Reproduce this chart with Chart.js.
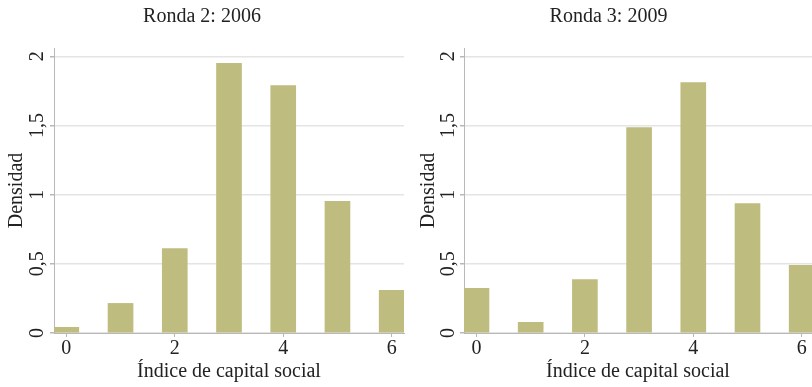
<!DOCTYPE html>
<html>
<head>
<meta charset="utf-8">
<script src="https://cdn.jsdelivr.net/npm/chart.js@4.4.1/dist/chart.umd.min.js"></script>
<style>
  html, body { margin: 0; padding: 0; background: #fff; }
  #wrap { position: relative; width: 812px; height: 387px; overflow: hidden; }
  .panel { position: absolute; top: 0; height: 387px; }
</style>
</head>
<body>
<div id="wrap">
  <div class="panel" style="left:0;width:405px"><canvas id="c1" width="405" height="387"></canvas></div>
  <div class="panel" style="left:405px;width:407px"><canvas id="c2" width="407" height="387"></canvas></div>
</div>
<script>
// ---- data ----
const categories = [0, 1, 2, 3, 4, 5, 6];
const ronda2006 = [0.041, 0.214, 0.611, 1.949, 1.788, 0.951, 0.308];
const ronda2009 = [0.322, 0.077, 0.387, 1.485, 1.810, 0.936, 0.489];
const titles = ['Ronda 2: 2006', 'Ronda 3: 2009'];
const xTitle = 'Índice de capital social';
const yTitle = 'Densidad';

const FONT = "'Liberation Serif', 'DejaVu Serif', serif";
const BAR = '#bebd7f';
const GRID = '#e4e4e4';
const AXIS = '#b8b8b8';
const TEXT = '#222222';

function makeChart(id, values, title, cfg) {
  const pts = categories.map((c, i) => ({ x: c, y: values[i] }));
  return new Chart(document.getElementById(id), {
    type: 'bar',
    data: { datasets: [{ data: pts, backgroundColor: BAR, borderWidth: 0, barThickness: 25 }] },
    options: {
      responsive: false,
      animation: false,
      layout: { padding: { left: 0, right: cfg.padRight, top: 0, bottom: 0 } },
      plugins: {
        legend: { display: false },
        tooltip: { enabled: false },
        title: {
          display: true, text: title, color: TEXT,
          font: { family: FONT, size: 20, weight: 'normal' },
          padding: { top: 5, bottom: 19 }
        }
      },
      scales: {
        x: {
          type: 'linear', min: cfg.xMin, max: cfg.xMax, offset: false,
          grid: { display: true, drawOnChartArea: false, drawTicks: true, tickLength: 4, tickColor: AXIS, offset: false },
          border: { display: true, color: AXIS, width: 1 },
          ticks: { stepSize: 2, includeBounds: false, color: TEXT, padding: 0,
                   font: { family: FONT, size: 20 }, maxRotation: 0, minRotation: 0 },
          title: { display: true, text: xTitle, color: TEXT, font: { family: FONT, size: 20 }, padding: { top: 0, bottom: 3 } },
          afterFit: s => { s.height = 54; }
        },
        y: {
          min: 0, max: 2.06,
          grid: { color: GRID, lineWidth: 1.5, drawTicks: true, tickLength: 4, tickColor: AXIS },
          border: { display: true, color: AXIS, width: 1 },
          ticks: { stepSize: 0.5, includeBounds: false, color: TEXT, padding: cfg.yTickPad,
                   crossAlign: 'center', minRotation: 90, maxRotation: 90,
                   font: { family: FONT, size: 20 },
                   callback: v => String(v).replace('.', ',') },
          title: { display: true, text: yTitle, color: TEXT, font: { family: FONT, size: 20 }, padding: { top: cfg.yTitlePad, bottom: 0 } },
          afterFit: s => { s.width = cfg.yWidth; }
        }
      }
    }
  });
}

makeChart('c1', ronda2006, titles[0], { xMin: -0.227, xMax: 6.227, yWidth: 54, padRight: 1, yTickPad: -0.5, yTitlePad: 5 });
makeChart('c2', ronda2009, titles[1], { xMin: -0.23, xMax: 6.19, yWidth: 59, padRight: 0, yTickPad: -1.5, yTitlePad: 12 });
</script>
</body>
</html>
